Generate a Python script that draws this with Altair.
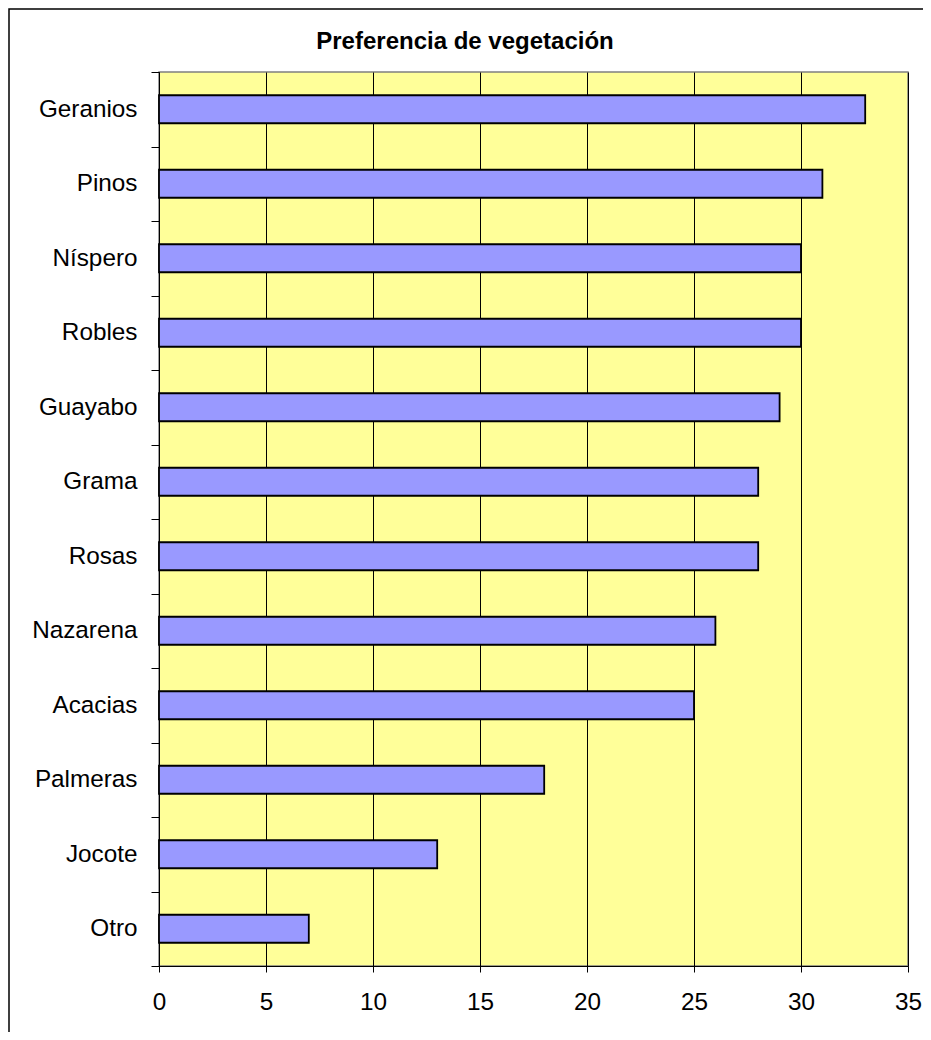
import altair as alt
import pandas as pd

categories = ["Geranios", "Pinos", "Níspero", "Robles", "Guayabo", "Grama",
              "Rosas", "Nazarena", "Acacias", "Palmeras", "Jocote", "Otro"]
values = [33, 31, 30, 30, 29, 28, 28, 26, 25, 18, 13, 7]
x_ticks = [0, 5, 10, 15, 20, 25, 30, 35]
title_text = "Preferencia de vegetación"

W, H = 749, 894
FONT = "Liberation Sans"

df = pd.DataFrame({"cat": categories, "val": values})

bars = alt.Chart(df).mark_bar(
    fill="#9999FF", stroke="#000000", strokeWidth=1.8,
    height=alt.RelativeBandSize(0.376)
).encode(
    y=alt.Y("cat:N", sort=categories,
            scale=alt.Scale(paddingInner=0, paddingOuter=0),
            axis=alt.Axis(title=None, labelFontSize=24.3, labelFont=FONT,
                          labelColor="#000000", labelPadding=14,
                          tickSize=8, tickColor="#000000", tickBand="extent",
                          domainColor="#000000", grid=False)),
    x=alt.X("val:Q", scale=alt.Scale(domain=[0, 35], nice=False),
            axis=alt.Axis(title=None, values=x_ticks, labelFontSize=24.3,
                          labelFont=FONT, labelColor="#000000", labelPadding=18,
                          labelFlush=False,
                          tickSize=6, tickColor="#000000", domainColor="#000000",
                          grid=True, gridColor="#000000", gridWidth=1,
                          gridOpacity=1)),
)

frame = alt.Chart(pd.DataFrame({"k": [0]})).mark_rect(
    fill=None, stroke="#000000", strokeWidth=1.5
).encode(
    x=alt.value(-150), x2=alt.value(W + 200),
    y=alt.value(-63), y2=alt.value(H + 300),
)

title = alt.Chart(pd.DataFrame({"t": [title_text]})).mark_text(
    font=FONT, fontSize=24, fontWeight="bold", color="#000000",
    align="center", baseline="alphabetic"
).encode(
    text="t:N", x=alt.value(306), y=alt.value(-23),
)

chart = alt.layer(bars, frame, title).properties(
    width=W, height=H,
    autosize=alt.AutoSizeParams(type="none"),
    padding={"left": 151, "top": 64, "right": 15, "bottom": 66},
).configure(
    background="#FFFFFF"
).configure_view(
    fill="#FFFF99", stroke="#808080", strokeWidth=1.5
)

chart.save("out.html", embed_options={"renderer": "svg", "actions": False})
